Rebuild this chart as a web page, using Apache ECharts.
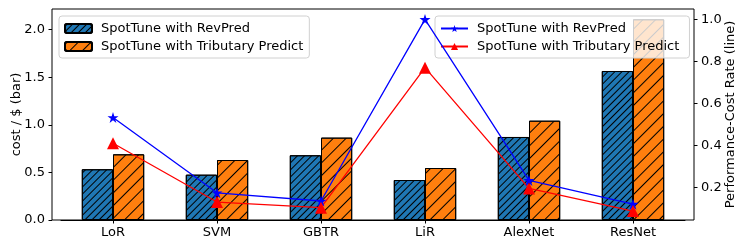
<!DOCTYPE html>
<html>
<head>
<meta charset="utf-8">
<script src="https://cdn.jsdelivr.net/npm/echarts@6/dist/echarts.min.js"></script>
<style>html,body{margin:0;padding:0;background:#fff}#c{width:747px;height:249px}</style>
</head>
<body>
<div id="c"></div>
<script>
const categories = ['LoR', 'SVM', 'GBTR', 'LiR', 'AlexNet', 'ResNet'];
const costRevPred = [0.533, 0.476, 0.68, 0.42, 0.872, 1.565];
const costTributary = [0.69, 0.63, 0.865, 0.546, 1.043, 2.108];
const rateRevPred = [0.533, 0.174, 0.135, 1.0, 0.233, 0.12];
const rateTributary = [0.41, 0.13, 0.103, 0.77, 0.195, 0.087];
const leftTicks = [0, 0.5, 1.0, 1.5, 2.0];
const rightTicks = [0.2, 0.4, 0.6, 0.8, 1.0];

const FONT = 'DejaVu Sans';
const FS = 13;
const STAR = 'path://M50,0 L61.2,34.5 L97.6,34.5 L68.2,55.9 L79.4,90.5 L50,69.1 L20.6,90.5 L31.8,55.9 L2.4,34.5 L38.8,34.5 Z';

const chart = echarts.init(document.getElementById('c'), null, {renderer: 'canvas'});
const hatch = (gap) => ({
  symbol: 'rect', symbolSize: 1, color: '#000', backgroundColor: null,
  dashArrayX: [1, 0], dashArrayY: [1, gap], rotation: -Math.PI / 4
});
const legendBase = {
  orient: 'vertical', top: 16,
  itemWidth: 27, itemHeight: 9, itemGap: 5,
  padding: [6, 6, 5, 5],
  borderColor: '#d0d0d0', borderWidth: 1, borderRadius: 3,
  backgroundColor: 'rgba(255,255,255,0.8)',
  textStyle: {fontFamily: FONT, fontSize: FS, color: '#000', padding: [0, 0, 0, 4]},
  selectedMode: false
};

chart.setOption({
  animation: false,
  textStyle: {fontFamily: FONT, color: '#000'},
  grid: [
    {left: 61, right: 62, top: 9, bottom: 29, containLabel: false, outerBoundsMode: 'none'},
    {left: 52, right: 53, top: 9, bottom: 29, containLabel: false, outerBoundsMode: 'none', show: true, borderColor: '#000', borderWidth: 1, backgroundColor: 'transparent', z: 0}
  ],
  legend: [
    Object.assign({}, legendBase, {
      data: [{name: 'SpotTune with RevPred'}, {name: 'SpotTune with Tributary Predict'}],
      left: 59
    }),
    Object.assign({}, legendBase, {
      data: [{name: 'SpotTune with RevPred '}, {name: 'SpotTune with Tributary Predict '}],
      left: 435
    })
  ],
  xAxis: [
    {
      type: 'category', gridIndex: 0, data: categories,
      axisLine: {show: true, lineStyle: {color: '#000', width: 1}},
      axisTick: {show: true, alignWithLabel: true, length: 3.5, lineStyle: {color: '#000'}},
      axisLabel: {fontFamily: FONT, fontSize: FS, color: '#000', margin: 6},
      splitLine: {show: false}
    },
    {type: 'value', gridIndex: 1, show: false, min: 0, max: 1}
  ],
  yAxis: [
    {
      type: 'value', gridIndex: 0, position: 'left', offset: 9,
      min: 0, max: 2.216,
      name: 'cost / $ (bar)', nameLocation: 'middle', nameGap: 29, nameRotate: 90,
      nameMoveOverlap: false,
      nameTextStyle: {fontFamily: FONT, fontSize: FS, color: '#000'},
      axisLine: {show: false},
      axisTick: {show: true, length: 3.5, lineStyle: {color: '#000'}, customValues: leftTicks},
      axisLabel: {fontFamily: FONT, fontSize: FS, color: '#000', margin: 7, customValues: leftTicks, formatter: v => v.toFixed(1)},
      splitLine: {show: false}
    },
    {
      type: 'value', gridIndex: 0, position: 'right', offset: 9,
      min: 0.0445, max: 1.0495,
      name: 'Performance-Cost Rate (line)', nameLocation: 'middle', nameGap: 30, nameRotate: 90,
      nameMoveOverlap: false,
      nameTextStyle: {fontFamily: FONT, fontSize: FS, color: '#000'},
      axisLine: {show: false},
      axisTick: {show: true, length: 3.5, lineStyle: {color: '#000'}, customValues: rightTicks},
      axisLabel: {fontFamily: FONT, fontSize: FS, color: '#000', margin: 7, customValues: rightTicks, formatter: v => v.toFixed(1)},
      splitLine: {show: false}
    },
    {type: 'value', gridIndex: 1, show: false, min: 0, max: 1}
  ],
  series: [
    {
      name: 'SpotTune with RevPred', type: 'bar', xAxisIndex: 0, yAxisIndex: 0,
      data: costRevPred, barWidth: 31.2, barGap: '0%',
      itemStyle: {color: '#1f77b4', borderColor: '#000', borderWidth: 1, decal: hatch(4)},
      z: 2
    },
    {
      name: 'SpotTune with Tributary Predict', type: 'bar', xAxisIndex: 0, yAxisIndex: 0,
      data: costTributary, barWidth: 31.2, barGap: '0%',
      itemStyle: {color: '#ff7f0e', borderColor: '#000', borderWidth: 1, decal: hatch(8)},
      z: 2
    },
    {
      name: 'SpotTune with RevPred ', type: 'line', xAxisIndex: 0, yAxisIndex: 1,
      data: rateRevPred, symbol: STAR, symbolSize: 11,
      lineStyle: {color: '#0000ff', width: 1.3},
      itemStyle: {color: '#0000ff'},
      z: 5
    },
    {
      name: 'SpotTune with Tributary Predict ', type: 'line', xAxisIndex: 0, yAxisIndex: 1,
      data: rateTributary, symbol: 'triangle', symbolSize: 12,
      lineStyle: {color: '#ff0000', width: 1.3},
      itemStyle: {color: '#ff0000'},
      z: 5
    }
  ]
});
</script>
</body>
</html>
